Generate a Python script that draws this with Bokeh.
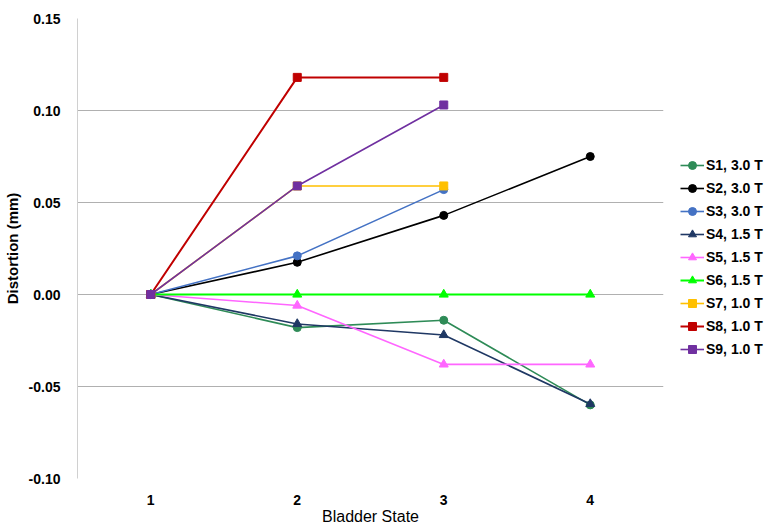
from bokeh.plotting import figure
from bokeh.models import FixedTicker, Range1d, Legend, LegendItem, NumeralTickFormatter
from bokeh.embed import file_html
from bokeh.resources import INLINE

states = [1, 2, 3, 4]
labels = ["S1, 3.0 T", "S2, 3.0 T", "S3, 3.0 T", "S4, 1.5 T", "S5, 1.5 T",
          "S6, 1.5 T", "S7, 1.0 T", "S8, 1.0 T", "S9, 1.0 T"]
s1 = [0.0, -0.018, -0.014, -0.060]
s2 = [0.0, 0.0175, 0.043, 0.075]
s3 = [0.0, 0.021, 0.057]
s4 = [0.0, -0.016, -0.022, -0.0595]
s5 = [0.0, -0.006, -0.038, -0.038]
s6 = [0.0, 0.0, 0.0, 0.0]
s7 = [0.0, 0.059, 0.059]
s8 = [0.0, 0.118, 0.118]
s9 = [0.0, 0.059, 0.103]
series = [s1, s2, s3, s4, s5, s6, s7, s8, s9]
colors = ["#2E8B57", "#000000", "#4472C4", "#1F3864", "#FF66FF",
          "#00FF00", "#FFC000", "#C00000", "#7030A0"]
markers = ["circle", "circle", "circle", "triangle", "triangle",
           "triangle", "square", "square", "square"]
y_ticks = [-0.10, -0.05, 0.0, 0.05, 0.10, 0.15]

FONT = "Liberation Sans"

p = figure(frame_width=586, frame_height=460, output_backend="svg", toolbar_location=None,
           x_range=Range1d(0.5, 4.5), y_range=Range1d(-0.10, 0.15),
           min_border_left=77, min_border_right=104, min_border_top=18,
           min_border_bottom=44)
p.outline_line_color = None
p.background_fill_color = "white"

p.xgrid.grid_line_color = None
p.ygrid.grid_line_color = "#B0B0B0"
p.ygrid.grid_line_width = 1
p.ygrid.ticker = FixedTicker(ticks=y_ticks)

p.yaxis.ticker = FixedTicker(ticks=y_ticks)
p.yaxis.formatter = NumeralTickFormatter(format="0.00")
p.yaxis.axis_line_color = "#D0D0D0"
p.yaxis.major_tick_line_color = None
p.yaxis.minor_tick_line_color = None
p.yaxis.major_label_text_font = FONT
p.yaxis.major_label_text_font_style = "bold"
p.yaxis.major_label_text_font_size = "14px"
p.yaxis.major_label_text_color = "#000000"
p.yaxis.major_label_standoff = 11
p.yaxis.axis_label = "Distortion (mm)"
p.yaxis.axis_label_text_font = FONT
p.yaxis.axis_label_text_font_style = "bold"
p.yaxis.axis_label_text_font_size = "15px"
p.yaxis.axis_label_text_color = "#000000"
p.yaxis.axis_label_standoff = 5

p.xaxis.ticker = FixedTicker(ticks=states)
p.xaxis.axis_line_color = None
p.xaxis.major_tick_line_color = None
p.xaxis.minor_tick_line_color = None
p.xaxis.major_label_text_font = FONT
p.xaxis.major_label_text_font_style = "bold"
p.xaxis.major_label_text_font_size = "14px"
p.xaxis.major_label_text_color = "#000000"
p.xaxis.major_label_standoff = 10
p.xaxis.axis_label = "Bladder State"
p.xaxis.axis_label_text_font = FONT
p.xaxis.axis_label_text_font_style = "normal"
p.xaxis.axis_label_text_font_size = "16px"
p.xaxis.axis_label_text_color = "#000000"
p.xaxis.axis_label_standoff = 0

items = []
for lab, ys, c, m in zip(labels, series, colors, markers):
    xs = states[:len(ys)]
    lw = 2 if c in ("#00FF00", "#C00000") else 1.6
    r1 = p.line(xs, ys, line_color=c, line_width=lw)
    size = 9 if m == "triangle" else 8
    r2 = p.scatter(xs, ys, marker=m, size=size, fill_color=c, line_color=c)
    items.append(LegendItem(label=lab, renderers=[r1, r2]))

legend = Legend(items=items, location=(17, 119))
legend.background_fill_alpha = 0
legend.border_line_color = None
legend.margin = 0
legend.padding = 0
legend.spacing = 3
legend.glyph_width = 24
legend.glyph_height = 20
legend.label_standoff = 2
legend.label_text_font = FONT
legend.label_text_font_style = "bold"
legend.label_text_font_size = "14px"
legend.label_text_color = "#000000"
p.add_layout(legend, "right")

open("out.html", "w").write(file_html(p, INLINE))
